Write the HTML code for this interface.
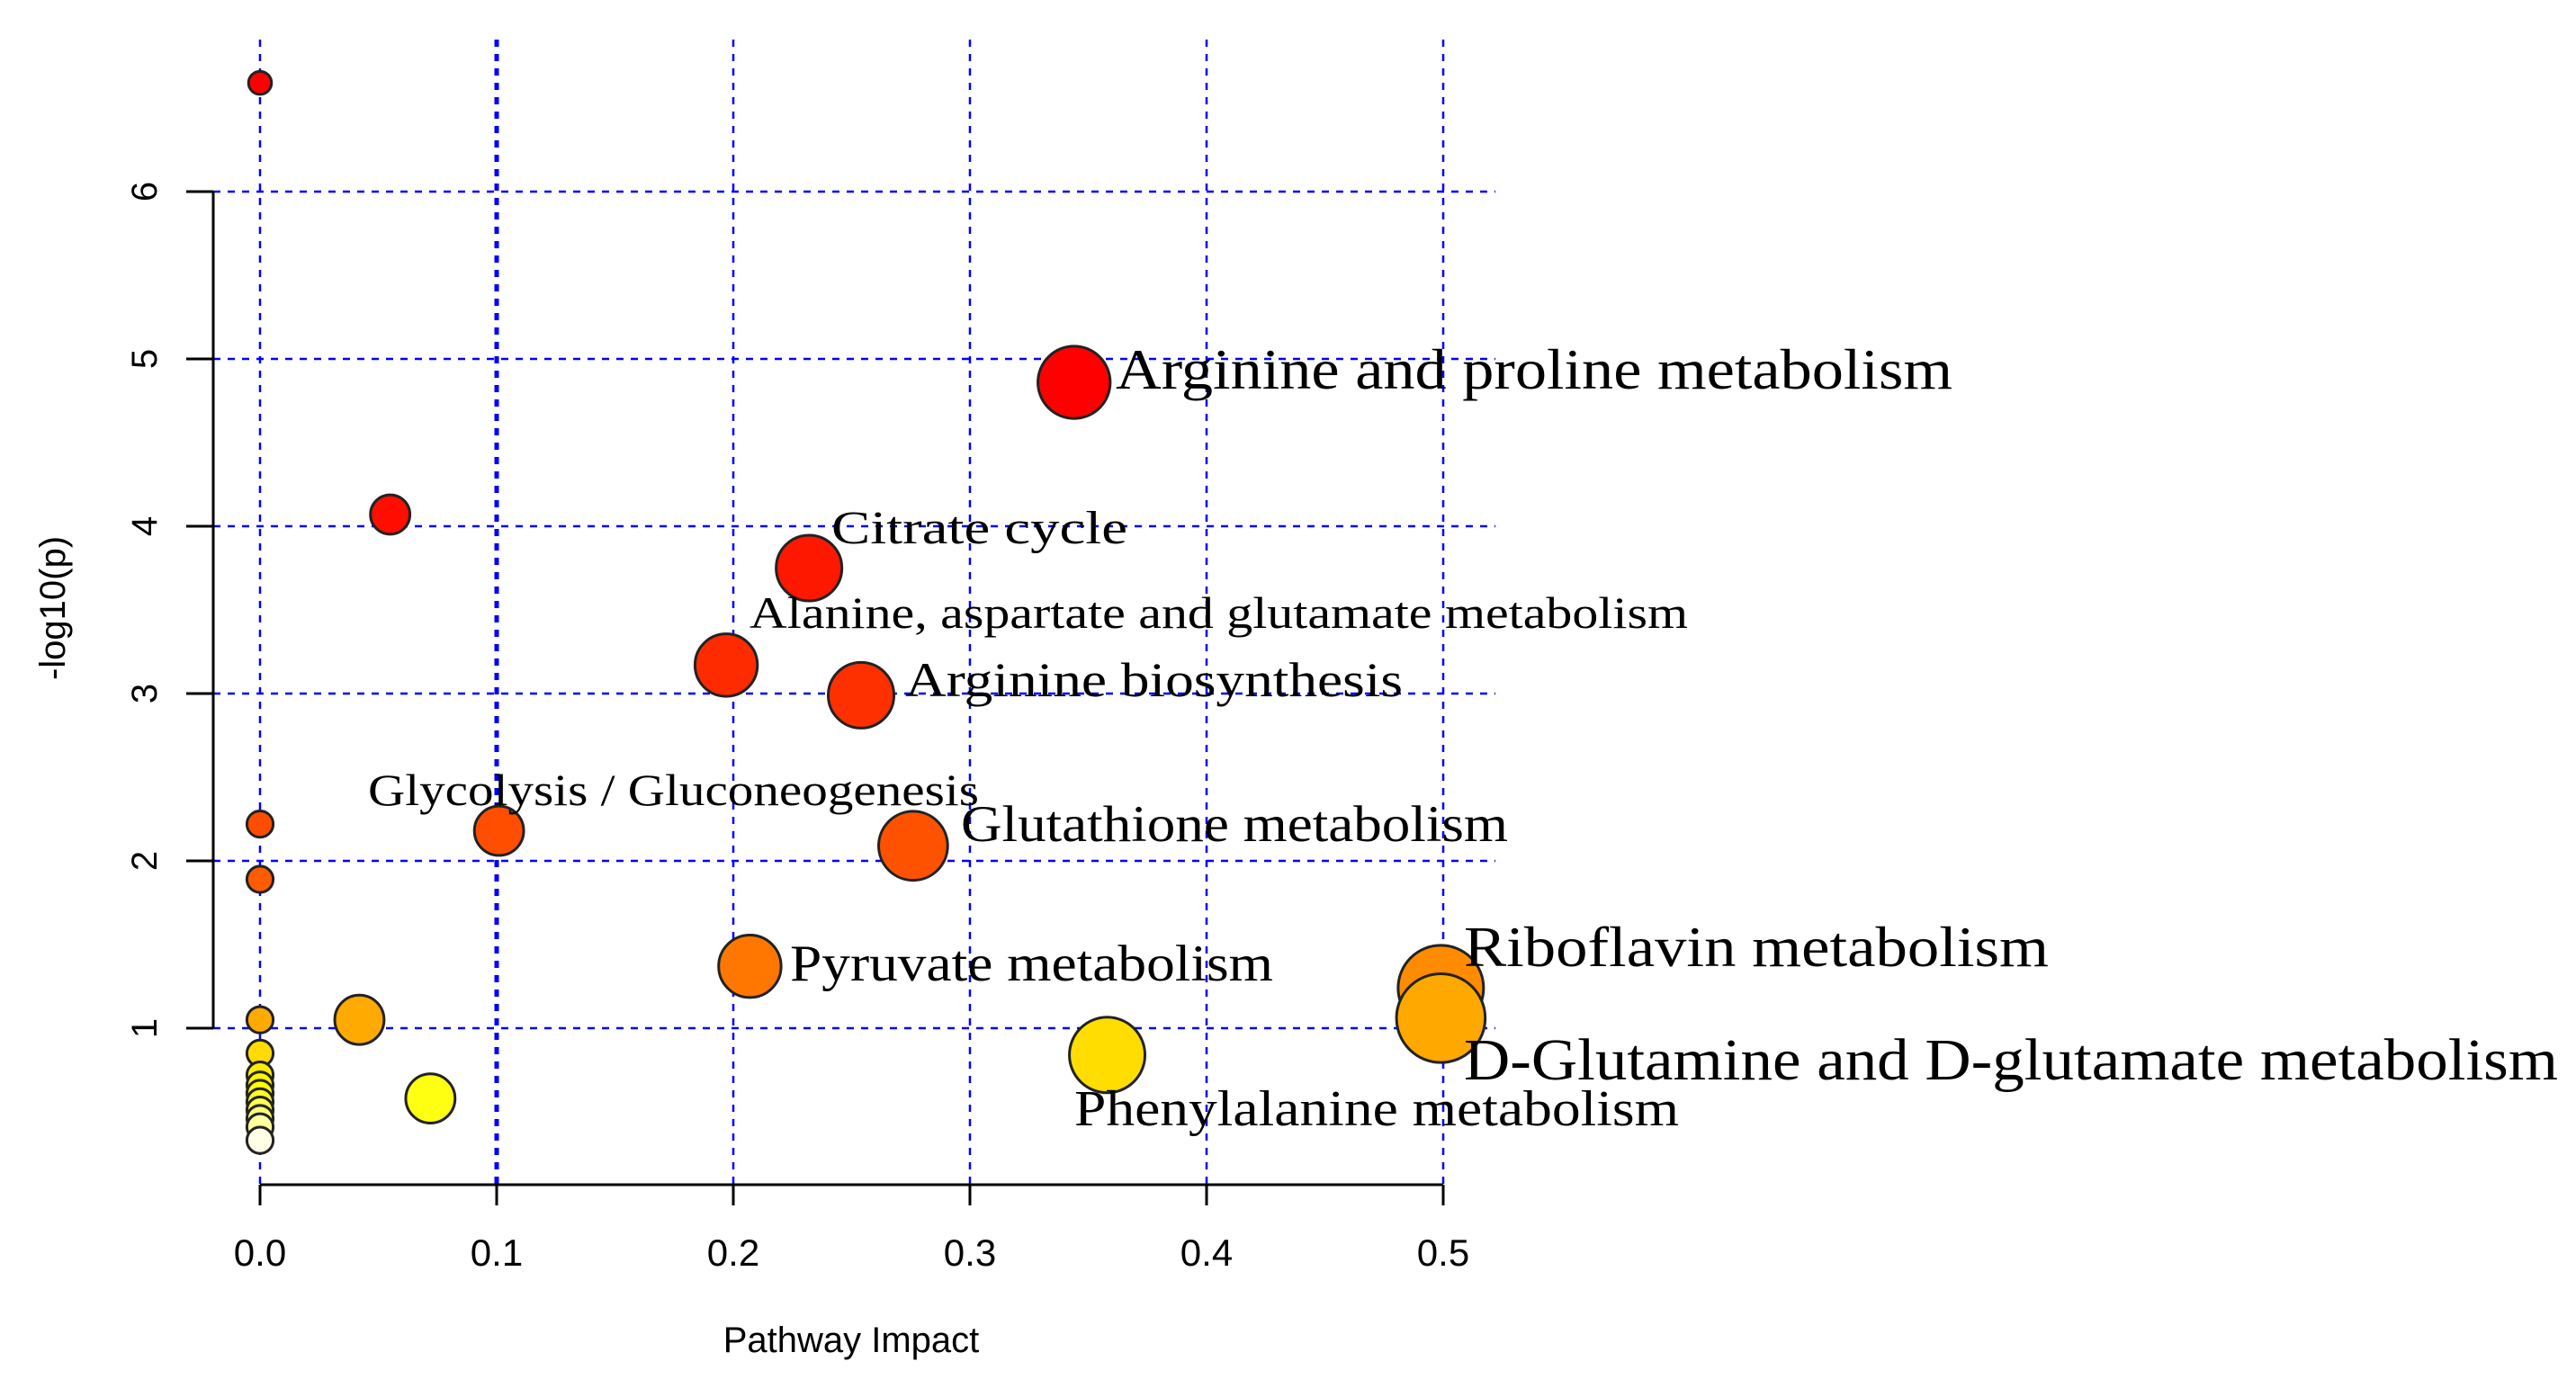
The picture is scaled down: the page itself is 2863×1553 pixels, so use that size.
<!DOCTYPE html>
<html><head><meta charset="utf-8"><style>
html,body{margin:0;padding:0;background:#fff;}
svg{display:block;}
</style></head><body>
<svg id="chart" width="2863" height="1553" viewBox="0 0 2863 1553" xmlns="http://www.w3.org/2000/svg">
<g id="grid"></g>
<g id="axes"></g>
<g id="points"></g>
<g font-family="'Liberation Serif', serif" fill="#000">
<text x="1240" y="432" font-size="64" textLength="930" lengthAdjust="spacingAndGlyphs">Arginine and proline metabolism</text>
<text x="924" y="604" font-size="52" textLength="329" lengthAdjust="spacingAndGlyphs">Citrate cycle</text>
<text x="833" y="698" font-size="50" textLength="1043" lengthAdjust="spacingAndGlyphs">Alanine, aspartate and glutamate metabolism</text>
<text x="1006" y="774" font-size="54" textLength="553" lengthAdjust="spacingAndGlyphs">Arginine biosynthesis</text>
<text x="409" y="895" font-size="50" textLength="679" lengthAdjust="spacingAndGlyphs">Glycolysis / Gluconeogenesis</text>
<text x="1068" y="935" font-size="57" textLength="608" lengthAdjust="spacingAndGlyphs">Glutathione metabolism</text>
<text x="878" y="1090" font-size="57" textLength="537" lengthAdjust="spacingAndGlyphs">Pyruvate metabolism</text>
<text x="1627" y="1074" font-size="64" textLength="650" lengthAdjust="spacingAndGlyphs">Riboflavin metabolism</text>
<text x="1627" y="1200" font-size="66" textLength="1216" lengthAdjust="spacingAndGlyphs">D-Glutamine and D-glutamate metabolism</text>
<text x="1194" y="1251" font-size="56" textLength="672" lengthAdjust="spacingAndGlyphs">Phenylalanine metabolism</text>
</g>
</svg>
<script>
const xTicks = [0.0, 0.1, 0.2, 0.3, 0.4, 0.5];
const xTickLabels = ["0.0", "0.1", "0.2", "0.3", "0.4", "0.5"];
const yTicks = [1, 2, 3, 4, 5, 6];
const yTickLabels = ["1", "2", "3", "4", "5", "6"];
const impactValues = [0, 0.055, 0.344, 0.232, 0.197, 0.254, 0.101, 0.276, 0.207, 0.499, 0.499, 0.358, 0.042, 0.072, 0, 0, 0, 0, 0, 0, 0, 0, 0, 0, 0, 0.0];
const logPValues = [6.65, 4.07, 4.86, 3.75, 3.17, 2.99, 2.18, 2.09, 1.37, 1.24, 1.06, 0.84, 1.05, 0.58, 2.22, 1.89, 1.05, 0.85, 0.72, 0.66, 0.61, 0.56, 0.51, 0.46, 0.41, 0.33];
const pointSizes = [7, 12, 22, 20, 19, 20, 15, 21, 19, 26, 27, 23, 15, 15, 8, 8, 8, 8, 8, 8, 8, 8, 8, 8, 8, 8];

const NS = "http://www.w3.org/2000/svg";
function xs(v){ return 289 + v * 2630; }
function ys(v){ return 1143 - (v - 1) * 186; }
function rs(s){ return s * 1.826; }
function mk(tag, attrs, parent){ const e = document.createElementNS(NS, tag); for (const k in attrs) e.setAttribute(k, attrs[k]); parent.appendChild(e); return e; }
function colorFor(v){
  const bp = [[6.7,0],[4.5,0],[4,16],[3,48],[2,85],[1.37,119],[1.05,170],[0.84,221],[0.6,255]];
  let g = 255;
  if (v >= bp[0][0]) g = 0;
  else for (let i = 0; i < bp.length - 1; i++) { if (v <= bp[i][0] && v >= bp[i+1][0]) { const t = (bp[i][0]-v)/(bp[i][0]-bp[i+1][0]); g = bp[i][1] + t*(bp[i+1][1]-bp[i][1]); break; } }
  let b = 0;
  if (v < 0.6) b = Math.min(255, (0.6 - v) / 0.27 * 230);
  return "rgb(255," + Math.round(g) + "," + Math.round(b) + ")";
}
const grid = document.getElementById('grid');
const axes = document.getElementById('axes');
const pts = document.getElementById('points');

xTicks.forEach((t, i) => {
  const l = mk('line', {x1: xs(t), x2: xs(t), y1: 44, y2: 1317, stroke: '#0000ff', 'stroke-width': i === 1 ? 5 : 2.5, 'stroke-dasharray': '8,8'}, grid);
  
  
});
yTicks.forEach((t) => {
  const l = mk('line', {x1: 237, x2: 1662, y1: ys(t), y2: ys(t), stroke: '#0000ff', 'stroke-width': 2.5, 'stroke-dasharray': '8,8'}, grid);
  
  
});

const yAxis = mk('line', {x1: 237, x2: 237, y1: ys(yTicks[yTicks.length-1]), y2: ys(yTicks[0]), stroke: '#000', 'stroke-width': 3}, axes);


yTicks.forEach((t, i) => {
  const tk = mk('line', {x1: 207, x2: 237, y1: ys(t), y2: ys(t), stroke: '#000', 'stroke-width': 3}, axes);
  
  
  const tx = mk('text', {x: 0, y: 0, transform: 'translate(174,' + ys(t) + ') rotate(-90)', 'text-anchor': 'middle', 'font-family': "'Liberation Sans', sans-serif", 'font-size': 40, fill: '#000'}, axes);
  tx.textContent = yTickLabels[i];
  
  
});
const xAxis = mk('line', {x1: xs(xTicks[0]), x2: xs(xTicks[xTicks.length-1]), y1: 1317, y2: 1317, stroke: '#000', 'stroke-width': 3}, axes);


xTicks.forEach((t, i) => {
  const tk = mk('line', {x1: xs(t), x2: xs(t), y1: 1317, y2: 1340, stroke: '#000', 'stroke-width': 3}, axes);
  
  
  const tx = mk('text', {x: xs(t), y: 1407, 'text-anchor': 'middle', 'font-family': "'Liberation Sans', sans-serif", 'font-size': 42, fill: '#000'}, axes);
  tx.textContent = xTickLabels[i];
  
  
});
const xt = mk('text', {x: 946, y: 1503, 'text-anchor': 'middle', 'font-family': "'Liberation Sans', sans-serif", 'font-size': 40, fill: '#000'}, axes);
xt.textContent = 'Pathway Impact';


const yt = mk('text', {x: 0, y: 0, transform: 'translate(72,676) rotate(-90)', 'text-anchor': 'middle', 'font-family': "'Liberation Sans', sans-serif", 'font-size': 40, fill: '#000'}, axes);
yt.textContent = '-log10(p)';



impactValues.forEach((v, i) => {
  const c = mk('circle', {cx: xs(v), cy: ys(logPValues[i]), r: rs(pointSizes[i]), fill: colorFor(logPValues[i]), stroke: '#222', 'stroke-width': 3}, pts);
  
  
});
</script>
</body></html>
